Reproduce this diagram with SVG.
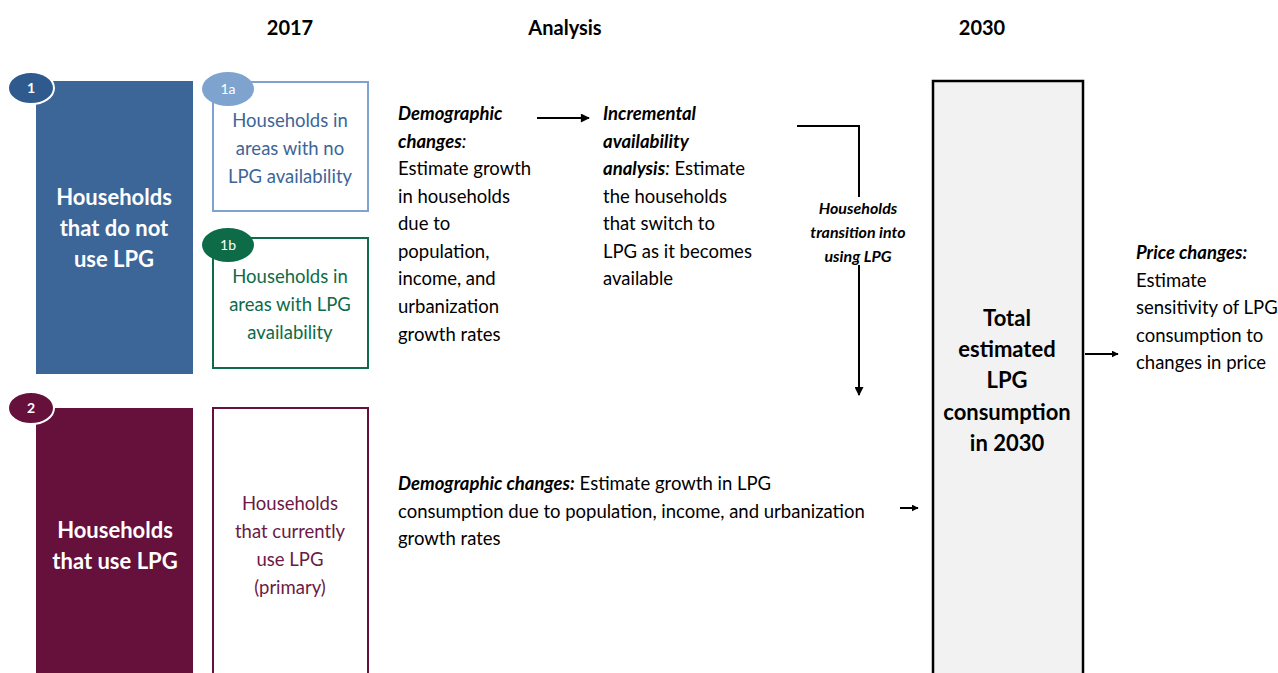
<svg xmlns="http://www.w3.org/2000/svg" width="1278" height="673" viewBox="0 0 1278 673">
<defs>
<marker id="ah" viewBox="0 0 10 10" refX="9" refY="5" markerWidth="5" markerHeight="4.5" orient="auto" markerUnits="strokeWidth">
<path d="M0,0 L10,5 L0,10 z" fill="#000"/>
</marker>
<marker id="ah2" viewBox="0 0 10 10" refX="9" refY="5" markerWidth="3.5" markerHeight="3.5" orient="auto" markerUnits="strokeWidth">
<path d="M0,0 L10,5 L0,10 z" fill="#000"/>
</marker>
<style>
text{font-family:Lato,"Open Sans","Liberation Sans",sans-serif;}
.hdr{font-size:20px;font-weight:bold;fill:#000;text-anchor:middle;}
.big{font-size:22px;font-weight:bold;fill:#fff;text-anchor:middle;}
.sub{font-size:18.5px;text-anchor:middle;}
.body{font-size:18.5px;fill:#000;}
.bi{font-weight:bold;font-style:italic;}
.badge{font-size:14px;fill:#fff;text-anchor:middle;}
.conn{stroke:#000;stroke-width:2;fill:none;}
</style>
</defs>
<rect width="1278" height="673" fill="#fff"/>

<g id="headers">
<text class="hdr" x="290" y="35">2017</text>
<text class="hdr" x="565" y="35">Analysis</text>
<text class="hdr" x="982" y="35">2030</text>
</g>

<g id="node-1">
<rect x="36" y="81" width="157" height="293" fill="#3D6698"/>
<ellipse cx="31" cy="88" rx="23" ry="16" fill="#2F5A8E" stroke="#fff" stroke-width="2"/>
<text class="badge" x="31" y="93" font-weight="bold">1</text>
<text class="big" x="114" y="205">Households</text>
<text class="big" x="114" y="236">that do not</text>
<text class="big" x="114" y="267">use LPG</text>
</g>

<g id="node-1a">
<rect x="213" y="82" width="155" height="129" fill="#fff" stroke="#7EA3CF" stroke-width="2"/>
<ellipse cx="228" cy="89" rx="26" ry="17" fill="#7EA3CF"/>
<text class="badge" x="228" y="94" font-size="13">1a</text>
<text class="sub" x="290" y="127" fill="#3D6698">Households in</text>
<text class="sub" x="290" y="155" fill="#3D6698">areas with no</text>
<text class="sub" x="290" y="183" fill="#3D6698">LPG availability</text>
</g>

<g id="node-1b">
<rect x="213" y="238" width="155" height="130" fill="#fff" stroke="#0E6B48" stroke-width="2"/>
<ellipse cx="228" cy="245" rx="26" ry="17" fill="#0E6B48"/>
<text class="badge" x="228" y="250" font-size="13">1b</text>
<text class="sub" x="290" y="283" fill="#0E6B48">Households in</text>
<text class="sub" x="290" y="311" fill="#0E6B48">areas with LPG</text>
<text class="sub" x="290" y="339" fill="#0E6B48">availability</text>
</g>

<g id="node-2">
<rect x="36" y="408" width="157" height="265" fill="#66103C"/>
<ellipse cx="31" cy="408" rx="23" ry="16" fill="#66103C" stroke="#fff" stroke-width="2"/>
<text class="badge" x="31" y="413" font-weight="bold">2</text>
<text class="big" x="115" y="538">Households</text>
<text class="big" x="115" y="569">that use LPG</text>
</g>

<g id="node-2-primary">
<rect x="213" y="408" width="155" height="270" fill="#fff" stroke="#66103C" stroke-width="2"/>
<text class="sub" x="290" y="510" fill="#6B1A45">Households</text>
<text class="sub" x="290" y="538" fill="#6B1A45">that currently</text>
<text class="sub" x="290" y="566" fill="#6B1A45">use LPG</text>
<text class="sub" x="290" y="594" fill="#6B1A45">(primary)</text>
</g>

<g id="demographic-1">
<text class="body" x="398" y="120"><tspan class="bi">Demographic</tspan></text>
<text class="body" x="398" y="148"><tspan class="bi">changes</tspan><tspan font-style="italic">:</tspan></text>
<text class="body" x="398" y="175">Estimate growth</text>
<text class="body" x="398" y="203">in households</text>
<text class="body" x="398" y="230">due to</text>
<text class="body" x="398" y="258">population,</text>
<text class="body" x="398" y="285">income, and</text>
<text class="body" x="398" y="313">urbanization</text>
<text class="body" x="398" y="341">growth rates</text>
</g>

<g id="incremental">
<text class="body" x="603" y="120"><tspan class="bi">Incremental</tspan></text>
<text class="body" x="603" y="148"><tspan class="bi">availability</tspan></text>
<text class="body" x="603" y="175"><tspan class="bi">analysis</tspan><tspan font-style="italic">:</tspan> Estimate</text>
<text class="body" x="603" y="203">the households</text>
<text class="body" x="603" y="230">that switch to</text>
<text class="body" x="603" y="258">LPG as it becomes</text>
<text class="body" x="603" y="285">available</text>
</g>

<g id="total">
<rect x="933" y="81" width="150" height="600" fill="#F2F2F2" stroke="#000" stroke-width="2.5"/>
<text class="big" style="fill:#000" x="1007" y="326">Total</text>
<text class="big" style="fill:#000" x="1007" y="357">estimated</text>
<text class="big" style="fill:#000" x="1007" y="388">LPG</text>
<text class="big" style="fill:#000" x="1007" y="420">consumption</text>
<text class="big" style="fill:#000" x="1007" y="451">in 2030</text>
</g>

<g id="price">
<text class="body" x="1136" y="259"><tspan class="bi">Price changes:</tspan></text>
<text class="body" x="1136" y="287">Estimate</text>
<text class="body" x="1136" y="314">sensitivity of LPG</text>
<text class="body" x="1136" y="342">consumption to</text>
<text class="body" x="1136" y="369">changes in price</text>
</g>

<g id="demographic-2">
<text class="body" x="398" y="490"><tspan class="bi">Demographic changes:</tspan> Estimate growth in LPG</text>
<text class="body" x="398" y="518">consumption due to population, income, and urbanization</text>
<text class="body" x="398" y="545">growth rates</text>
</g>

<g id="connectors">
<line class="conn" x1="537" y1="118" x2="589" y2="118" marker-end="url(#ah)"/>
<polyline class="conn" points="797,126 859,126 859,197"/>
<line class="conn" x1="859" y1="265" x2="859" y2="395" marker-end="url(#ah)"/>
<line class="conn" x1="900" y1="508" x2="918" y2="508" stroke-width="3" marker-end="url(#ah2)"/>
<line class="conn" x1="1085" y1="354" x2="1118" y2="354" stroke-width="3" marker-end="url(#ah2)"/>
<text x="858" y="214" font-size="16" class="bi" text-anchor="middle">Households</text>
<text x="858" y="238" font-size="16" class="bi" text-anchor="middle">transition into</text>
<text x="858" y="262" font-size="16" class="bi" text-anchor="middle">using LPG</text>
</g>
</svg>
